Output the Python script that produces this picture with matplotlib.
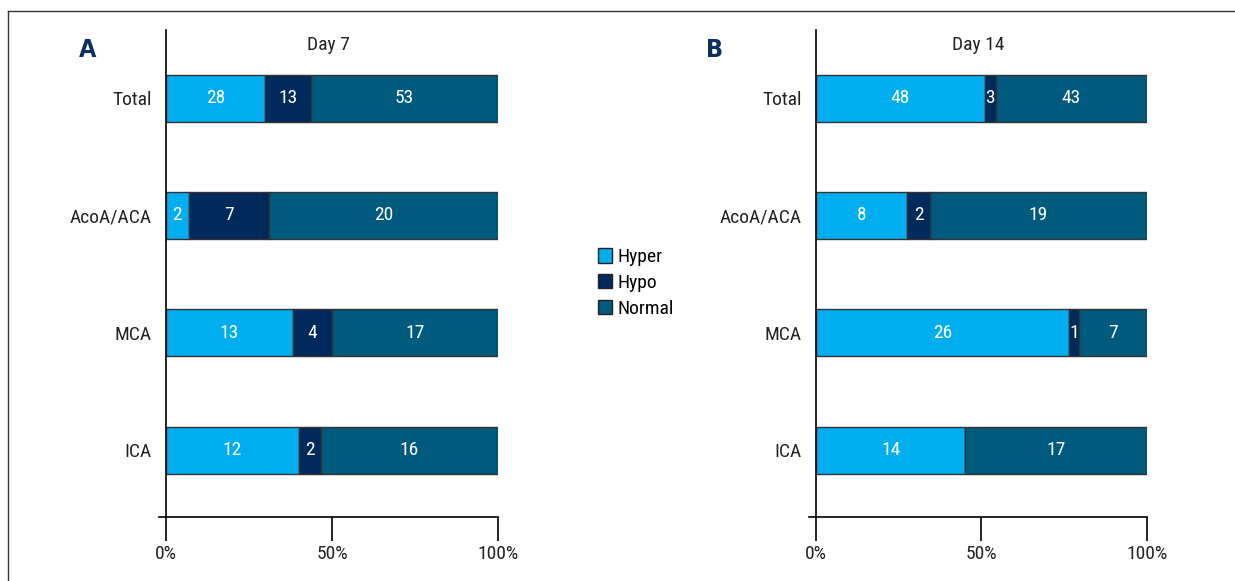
import numpy as np
import matplotlib.pyplot as plt
from matplotlib.lines import Line2D
from matplotlib.patches import Patch

plt.rcParams['font.family'] = ['Liberation Sans Narrow', 'DejaVu Sans Condensed',
                               'Roboto Condensed', 'Open Sans Condensed', 'Roboto']
plt.rcParams['font.stretch'] = 'condensed'

categories = ['ICA', 'MCA', 'AcoA/ACA', 'Total']
series = ['Hyper', 'Hypo', 'Normal']
colors = ['#00aeef', '#002a5c', '#005a7e']

day7_hyper = [12, 13, 2, 28]
day7_hypo = [2, 4, 7, 13]
day7_normal = [16, 17, 20, 53]

day14_hyper = [14, 26, 8, 48]
day14_hypo = [0, 1, 2, 3]
day14_normal = [17, 7, 19, 43]

xticks = [0, 0.5, 1.0]
xticklabels = ['0%', '50%', '100%']

FS = 14


def DrawPanel(ax, counts, title):
    counts = np.array(counts, dtype=float)
    totals = counts.sum(axis=0)
    frac = counts / totals
    y = np.arange(len(categories))

    ax.spines['top'].set_visible(False)
    ax.spines['right'].set_visible(False)
    ax.spines['left'].set_position(('data', 0))
    ax.spines['left'].set_linewidth(1.2)
    ax.spines['bottom'].set_linewidth(1.2)

    left = np.zeros(len(categories))
    for i in range(len(series)):
        ax.barh(y, frac[i], left=left, height=0.4, color=colors[i],
                edgecolor='#333333', linewidth=1)
        for j in range(len(categories)):
            if counts[i][j] > 0:
                ax.text(left[j] + frac[i][j] / 2, y[j], '%d' % counts[i][j],
                        ha='center', va='center', color='white', fontsize=FS)
        left += frac[i]

    ax.set_xlim(-0.021, 1.0)
    ax.set_ylim(-0.57, 3.58)
    ax.set_yticks(y)
    ax.set_yticklabels(categories, fontsize=FS, color='#222222')
    ax.tick_params(axis='y', length=0, pad=10)
    ax.set_xticks(xticks)
    ax.set_xticklabels(xticklabels, fontsize=FS, color='#222222')
    ax.tick_params(axis='x', direction='out', length=17, width=1.2, pad=3)
    ax.text(0.5, 0.969, title, transform=ax.transAxes,
            ha='center', va='center', fontsize=FS, color='#222222')


fig = plt.figure(figsize=(12.35, 5.81), dpi=100)

axA = fig.add_axes([159 / 1235, 0.1102, 339 / 1235, 0.8382])
DrawPanel(axA, [day7_hyper, day7_hypo, day7_normal], 'Day 7')

axB = fig.add_axes([809 / 1235, 0.1102, 338 / 1235, 0.8382])
DrawPanel(axB, [day14_hyper, day14_hypo, day14_normal], 'Day 14')

fig.text(88 / 1235, 1 - 50 / 581, 'A', fontsize=18, fontweight='bold',
         color='#0b2f5e', ha='center', va='center', family='DejaVu Sans')
fig.text(715 / 1235, 1 - 50 / 581, 'B', fontsize=18, fontweight='bold',
         color='#0b2f5e', ha='center', va='center', family='DejaVu Sans')

handles = [Patch(facecolor=c, edgecolor='#222222', label=s)
           for s, c in zip(series, colors)]
fig.legend(handles=handles, loc='center left',
           bbox_to_anchor=(580 / 1235, 1 - 283 / 581), frameon=False,
           fontsize=FS, handlelength=0.75, handleheight=0.75,
           handletextpad=0.3, labelspacing=0.4)

# frame lines at the top and left edge
fig.add_artist(Line2D([8 / 1235, 8 / 1235], [0, 1 - 11 / 581],
                      transform=fig.transFigure, color='#333333', lw=1))
fig.add_artist(Line2D([8 / 1235, 1], [1 - 11 / 581, 1 - 11 / 581],
                      transform=fig.transFigure, color='#333333', lw=1))

fig.savefig('out.png', dpi=100)
